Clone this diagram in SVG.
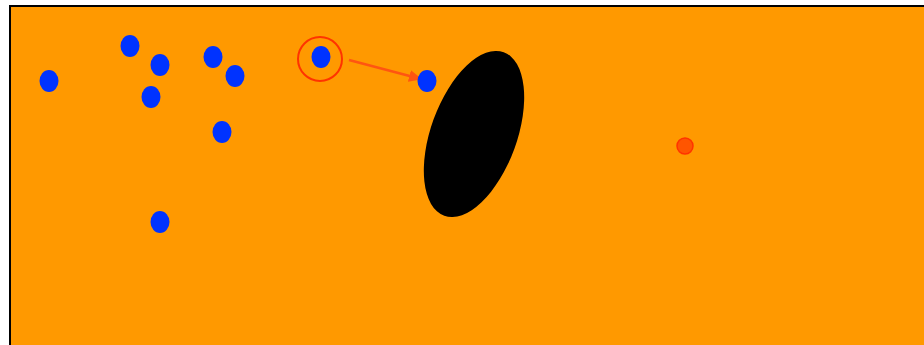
<svg xmlns="http://www.w3.org/2000/svg" width="924" height="345" viewBox="0 0 924 345">
<style>
.dot{fill:#0033ff}
</style>
<defs>
<marker id="ah" markerWidth="13" markerHeight="12" refX="12" refY="6" orient="auto" markerUnits="userSpaceOnUse">
<path d="M0,0 L13,6 L0,12 Z" fill="#ff5511"/>
</marker>
</defs>
<rect x="10" y="6" width="920" height="345" fill="#ff9900" stroke="#000" stroke-width="2"/>
<g id="hole"><ellipse cx="474" cy="134" rx="43" ry="87" transform="rotate(20 474 134)" fill="#000"/></g>
<g id="connectors"><line x1="349" y1="60" x2="421" y2="79" stroke="#ff5511" stroke-width="2.5" marker-end="url(#ah)"/></g>
<g id="n1"><ellipse class="dot" cx="49" cy="81" rx="9.5" ry="11"/></g>
<g id="n2"><ellipse class="dot" cx="130" cy="46" rx="9.5" ry="11"/></g>
<g id="n3"><ellipse class="dot" cx="160" cy="65" rx="9.5" ry="11"/></g>
<g id="n4"><ellipse class="dot" cx="151" cy="97" rx="9.5" ry="11"/></g>
<g id="n5"><ellipse class="dot" cx="213" cy="57" rx="9.5" ry="11"/></g>
<g id="n6"><ellipse class="dot" cx="235" cy="76" rx="9.5" ry="11"/></g>
<g id="n7"><ellipse class="dot" cx="222" cy="132" rx="9.5" ry="11"/></g>
<g id="n8"><ellipse class="dot" cx="160" cy="222" rx="9.5" ry="11"/></g>
<g id="n9"><ellipse class="dot" cx="321" cy="57" rx="9.5" ry="11"/><circle cx="320" cy="59" r="22" fill="none" stroke="#ff3300" stroke-width="2"/></g>
<g id="n10"><ellipse class="dot" cx="427" cy="81" rx="9.5" ry="11"/></g>
<g id="n11"><circle cx="685" cy="146" r="8" fill="#ff5500" stroke="#ff3300" stroke-width="1.5"/></g>
</svg>
